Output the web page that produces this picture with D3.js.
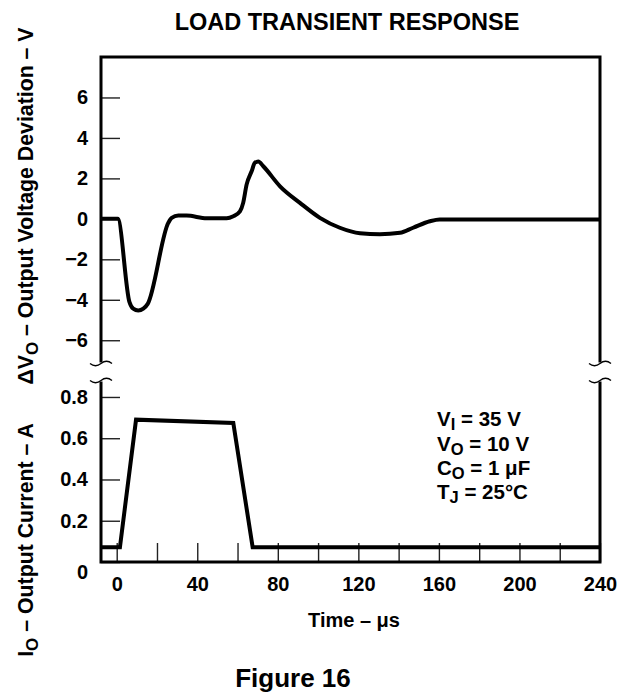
<!DOCTYPE html>
<html>
<head>
<meta charset="utf-8">
<script src="https://cdn.jsdelivr.net/npm/d3@7"></script>
<style>
  body { margin: 0; background: #fff; }
  svg { display: block; font-family: "Liberation Sans", Arial, Helvetica, sans-serif; font-weight: bold; }
</style>
</head>
<body>
<svg id="chart"></svg>
<script>
// time in µs
const timeV = [-7.8, 0.5, 6.3, 8.2, 10.7, 13.2, 15.4, 25.6, 27.3, 30.6, 34.7, 44.7, 54.6, 57.9, 61.2,
  62.8, 64.5, 67, 68.6, 70.3, 72.8, 81.1, 91, 100.9, 110.8, 120.8, 130.7, 140.7, 147.2, 155.5, 160.4, 240];
const deltaV = [0, 0, -4.1, -4.44, -4.53, -4.44, -4.2, -0.2, 0.05, 0.16, 0.16, 0.03, 0.03, 0.13, 0.37,
  0.79, 1.69, 2.35, 2.77, 2.84, 2.6, 1.61, 0.79, 0.05, -0.44, -0.71, -0.76, -0.69, -0.44, -0.12, -0.03, -0.03];

const timeI = [-7.8, 1.6, 9.6, 57.9, 67.5, 240];
const currentI = [0.072, 0.072, 0.69, 0.674, 0.072, 0.072];

const vTicks = [-6, -4, -2, 0, 2, 4, 6];
const iTicks = [0, 0.2, 0.4, 0.6, 0.8];
const tTicks = [0, 20, 40, 60, 80, 100, 120, 140, 160, 180, 200, 220, 240];
const tLabels = [0, 40, 80, 120, 160, 200, 240];

const conditions = [
  ["V", "I", " = 35 V"],
  ["V", "O", " = 10 V"],
  ["C", "O", " = 1 \u03bcF"],
  ["T", "J", " = 25\u00b0C"]
];

const W = 626, H = 693;
const left = 101, right = 600;
const topV = 57, botV = 362.5;   // upper panel
const topI = 381.5, botI = 562;  // lower panel

const svg = d3.select("#chart").attr("width", W).attr("height", H);
svg.append("rect").attr("width", W).attr("height", H).attr("fill", "#fff");

const x = d3.scaleLinear().domain([-7.8, 240]).range([left, right]);
const yV = d3.scaleLinear().domain([-7.1, 8]).range([botV, topV]);
const yI = d3.scaleLinear().domain([0, 0.875]).range([botI, topI]);

// ticks (inward)
const gV = svg.append("g").attr("transform", `translate(${left},0)`)
  .call(d3.axisLeft(yV).tickValues(vTicks).tickSize(-19).tickPadding(13));
const gI = svg.append("g").attr("transform", `translate(${left},0)`)
  .call(d3.axisLeft(yI).tickValues(iTicks).tickSize(-19).tickPadding(13)
    .tickFormat(d => d === 0 ? "0" : d3.format(".1f")(d)));
const gT = svg.append("g").attr("transform", `translate(0,${botI})`)
  .call(d3.axisBottom(x).tickValues(tTicks).tickSize(-19).tickPadding(15)
    .tickFormat(d => tLabels.includes(d) ? d : ""));

[gV, gI, gT].forEach(g => {
  g.select(".domain").remove();
  g.selectAll(".tick line").attr("stroke", "#222").attr("stroke-width", 1.4);
  g.selectAll("text").attr("fill", "#000").style("font-size", "20px")
    .style("font-family", "inherit").style("font-weight", "bold");
});
// the zero label of the current axis sits a little low
gI.selectAll(".tick").filter(d => d === 0).select("text").attr("dy", "0.8em");

// frame
const frame = svg.append("g").attr("fill", "none").attr("stroke", "#000").attr("stroke-width", 3);
frame.append("path").attr("d", `M${left},${botV}V${topV}H${right}V${botV}`);
frame.append("path").attr("d", `M${left},${topI}V${botI}H${right}V${topI}`);

// break marks
const tilde = (cx, cy) => `M${cx - 11},${cy}Q${cx - 5.5},${cy + 4.5} ${cx},${cy}T${cx + 11},${cy}`;
const brk = svg.append("g").attr("fill", "none").attr("stroke", "#000").attr("stroke-width", 1.3);
[left, right].forEach(px => {
  brk.append("path").attr("d", tilde(px, botV + 1));
  brk.append("path").attr("d", tilde(px, topI - 1));
});

// curves
const lineV = d3.line().x(d => x(d[0])).y(d => yV(d[1])).curve(d3.curveMonotoneX);
svg.append("path").datum(timeV.map((t, i) => [t, deltaV[i]]))
  .attr("d", lineV).attr("fill", "none").attr("stroke", "#000")
  .attr("stroke-width", 4).attr("stroke-linejoin", "round");

const lineI = d3.line().x(d => x(d[0])).y(d => yI(d[1]));
svg.append("path").datum(timeI.map((t, i) => [t, currentI[i]]))
  .attr("d", lineI).attr("fill", "none").attr("stroke", "#000")
  .attr("stroke-width", 4).attr("stroke-linejoin", "miter");

// texts
svg.append("text").attr("x", 347).attr("y", 29.5).attr("text-anchor", "middle")
  .style("font-size", "23.5px").text("LOAD TRANSIENT RESPONSE");

const yLab1 = svg.append("text").attr("transform", "translate(33,206) rotate(-90)")
  .attr("text-anchor", "middle").style("font-size", "21.3px");
yLab1.append("tspan").text("\u0394V");
yLab1.append("tspan").attr("dy", 5).style("font-size", "17px").text("O");
yLab1.append("tspan").attr("dy", -5).text(" \u2013 Output Voltage Deviation \u2013 V");

const yLab2 = svg.append("text").attr("transform", "translate(33,540) rotate(-90)")
  .attr("text-anchor", "middle").style("font-size", "21.3px");
yLab2.append("tspan").text("I");
yLab2.append("tspan").attr("dy", 5).style("font-size", "17px").text("O");
yLab2.append("tspan").attr("dy", -5).text(" \u2013 Output Current \u2013 A");

svg.append("text").attr("x", 354).attr("y", 627).attr("text-anchor", "middle")
  .style("font-size", "20px").text("Time \u2013 \u03bcs");

svg.append("text").attr("x", 293).attr("y", 687).attr("text-anchor", "middle")
  .style("font-size", "26px").text("Figure 16");

const baselines = [426, 450.5, 474.5, 498.5];
conditions.forEach((c, i) => {
  const t = svg.append("text").attr("x", 437).attr("y", baselines[i]).style("font-size", "20.5px");
  t.append("tspan").text(c[0]);
  t.append("tspan").attr("dy", 4).style("font-size", "16.5px").text(c[1]);
  t.append("tspan").attr("dy", -4).text(c[2]);
});
</script>
</body>
</html>
